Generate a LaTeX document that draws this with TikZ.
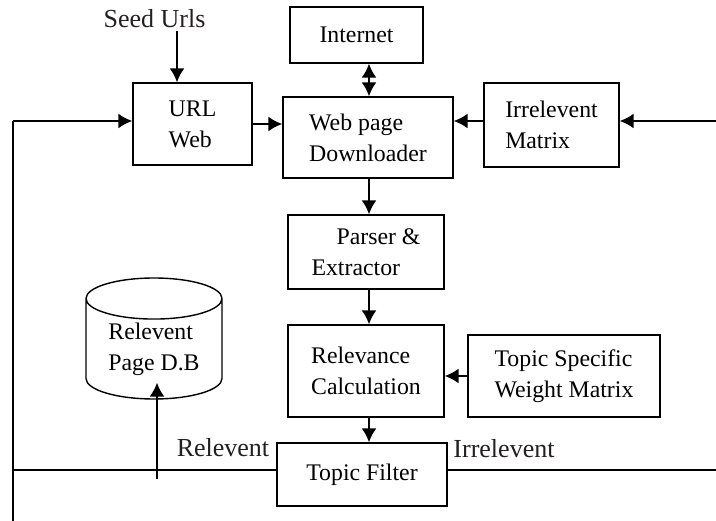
\documentclass[tikz,border=0pt]{standalone}
\usepackage{fontspec}
\setmainfont{Liberation Serif}
\usetikzlibrary{shapes.geometric, arrows.meta}
\definecolor{labelgray}{HTML}{231F20}
\tikzstyle{block} = [rectangle, draw=black, line width=1.4pt, inner sep=0pt, align=left, font=\fontsize{23.8}{31}\selectfont]
\tikzstyle{store} = [cylinder, shape border rotate=90, aspect=0.45, draw=black, line width=1.4pt, inner sep=0pt, align=left, font=\fontsize{23.8}{31}\selectfont]
\tikzstyle{tag} = [text=labelgray, inner sep=0pt, font=\fontsize{26}{31}\selectfont]
\tikzstyle{arrow} = [line width=2pt,->,>={Latex[length=14pt,width=15pt]}]
\tikzstyle{line} = [line width=1.2pt]

\begin{document}
\begin{tikzpicture}[x=1pt, y=-1pt]
    \useasboundingbox (0,0) rectangle (716,521);
    % main column
    \node (internet) [block, minimum width=133pt, minimum height=56pt] at (356.5,35) {Internet};
    \node (url) [block, minimum width=119pt, minimum height=82pt] at (192.5,124) {URL\\Web};
    \node (down) [block, minimum width=170pt, minimum height=81pt] at (368,137.5) {Web page\\Downloader};
    \node (irr) [block, minimum width=135pt, minimum height=84pt] at (551.5,125) {Irrelevent\\Matrix};
    \node (parser) [block, minimum width=156pt, minimum height=74pt] at (366,252) {\hspace*{25pt}Parser \&\\Extractor};
    \node (relcalc) [block, minimum width=156pt, minimum height=92pt] at (366,371) {Relevance\\Calculation};
    \node (weight) [block, minimum width=192pt, minimum height=82pt] at (564,376) {Topic Specific\\Weight Matrix};
    \node (filter) [block, minimum width=170pt, minimum height=63pt] at (362,474.5) {Topic Filter};
    \node (db) [store, minimum width=136pt, minimum height=121pt, anchor=shape center] at (154,338.5) {Relevent\\Page D.B};
    % labels
    \node (seed) [tag, anchor=base] at (154.5,28) {Seed Urls};
    \node (rel) [tag, anchor=base] at (223,457) {Relevent};
    \node (irrel) [tag, anchor=base] at (504,458) {Irrelevent};
    % free ends
    \coordinate (seedin) at (177,31);
    \coordinate (lbot) at (13,521);
    \coordinate (rtop) at (716,121);
    \coordinate (rbot) at (716,470);
    \coordinate (dbin) at (157,479);
    \coordinate (col) at (369,0);
    % connectors
    \draw [arrow] (seedin) -- (seedin |- url.north);
    \draw [line] (lbot) -- (lbot |- rtop);
    \draw [arrow] (lbot |- rtop) -- (rtop -| url.west);
    \draw [arrow] (url.east) -- (url.east -| down.west);
    \draw [arrow, <->] (col |- internet.south) -- (col |- down.north);
    \draw [arrow] (rtop) -- (rtop -| irr.east);
    \draw [arrow] (rtop -| irr.west) -- (rtop -| down.east);
    \draw [arrow] (col |- down.south) -- (col |- parser.north);
    \draw [arrow] (col |- parser.south) -- (col |- relcalc.north);
    \draw [arrow] (col |- relcalc.south) -- (col |- filter.north);
    \draw [arrow] (weight.west) -- (weight.west -| relcalc.east);
    \draw [line] (rbot -| filter.west) -- (rbot -| lbot);
    \draw [line] (rbot -| filter.east) -- (rbot);
    \draw [arrow, shorten >=-17pt] (dbin) -- (dbin |- db.south);
\end{tikzpicture}
\end{document}
